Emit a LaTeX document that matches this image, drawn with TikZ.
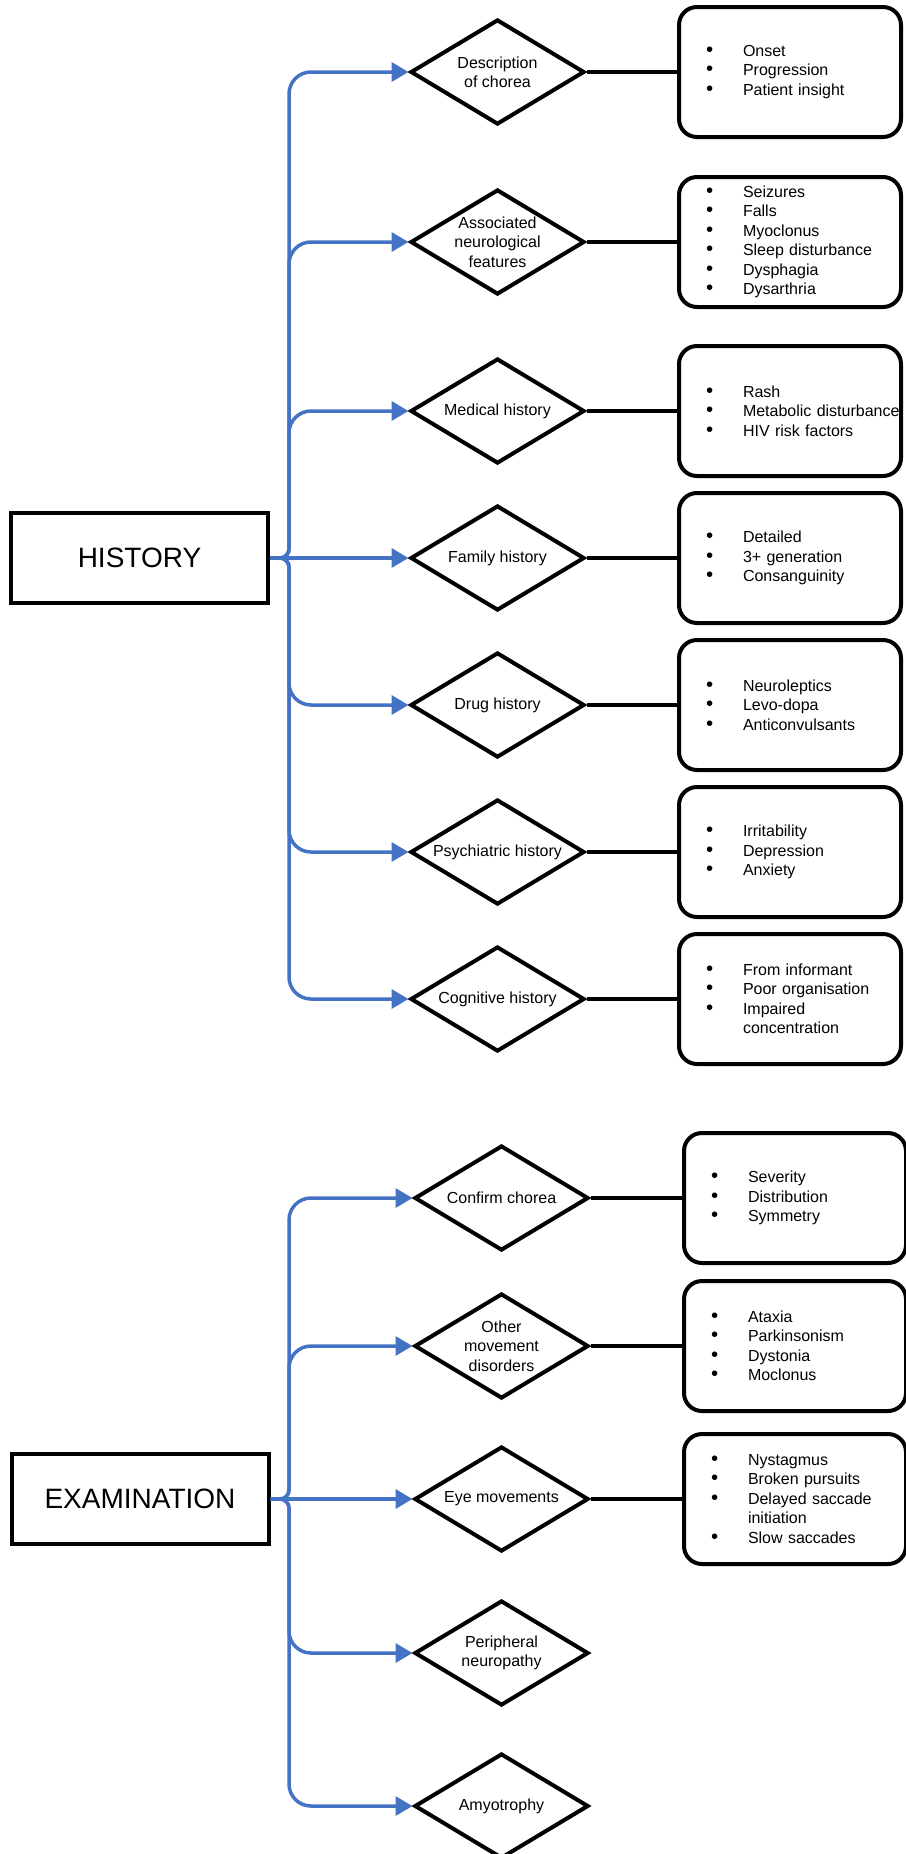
\documentclass[tikz,border=0pt]{standalone}
\usepackage{fontspec}
\setmainfont{Liberation Sans}
\usetikzlibrary{shapes.geometric,arrows.meta,positioning}
\newlength{\px}\setlength{\px}{0.25mm}
\newcommand{\bul}{\makebox[37\px][l]{\fontsize{14.5}{0}\selectfont\textbullet}}
\newcommand{\nobul}{\hspace*{37\px}}
\definecolor{flowblue}{RGB}{68,114,196}

\begin{document}
\begin{tikzpicture}[x=0.25mm,y=-0.25mm,
  main/.style={draw,line width=4\px,minimum width=257\px,minimum height=90\px,inner sep=0pt,font=\fontsize{19.92}{24}\selectfont},
  query/.style={diamond,draw,line width=4\px,aspect=1.66,inner sep=0pt,minimum width=174\px,minimum height=105\px,align=center,font=\fontsize{11.38}{13.8}\selectfont},
  notes/.style={draw,rounded corners=18\px,line width=4\px,minimum width=222\px,minimum height=130\px,inner xsep=27\px,text width=168\px,align=left,font=\fontsize{11.38}{13.87}\selectfont},
  flow/.style={draw=flowblue,line width=3.5\px,-{Triangle[length=4.25mm,width=4.75mm]}},
  link/.style={line width=4\px}]
\useasboundingbox (0,0) rectangle (906,1854);

% history
\node [main] (hist) at (139.5,558) {HISTORY};
\node [query] (d1) at (497.5,72) {Description\\of chorea};
\node [query] (d2) at (497.5,242) {Associated\\neurological\\features};
\node [query] (d3) at (497.5,411) {Medical history};
\node [query] (d4) at (497.5,558) {Family history};
\node [query] (d5) at (497.5,705) {Drug history};
\node [query] (d6) at (497.5,852) {Psychiatric history};
\node [query] (d7) at (497.5,999) {Cognitive history};
\node [notes] (b1) at (790,72) {\bul Onset\\\bul Progression\\\bul Patient insight};
\node [notes] (b2) at (790,242) {\bul Seizures\\\bul Falls\\\bul Myoclonus\\\bul Sleep disturbance\\\bul Dysphagia\\\bul Dysarthria};
\node [notes] (b3) at (790,411) {\bul Rash\\\bul \mbox{Metabolic disturbance}\\\bul HIV risk factors};
\node [notes] (b4) at (790,558) {\bul Detailed\\\bul 3+ generation\\\bul Consanguinity};
\node [notes] (b5) at (790,705) {\bul Neuroleptics\\\bul Levo-dopa\\\bul Anticonvulsants};
\node [notes] (b6) at (790,852) {\bul Irritability\\\bul Depression\\\bul Anxiety};
\node [notes] (b7) at (790,999) {\bul From informant\\\bul Poor organisation\\\bul Impaired\\\nobul concentration};

% examination
\node [main] (exam) at (140,1499) {EXAMINATION};
\node [query] (e1) at (501.5,1198) {Confirm chorea};
\node [query] (e2) at (501.5,1346) {Other\\movement\\disorders};
\node [query] (e3) at (501.5,1499) {Eye movements};
\node [query] (e4) at (501.5,1653) {Peripheral\\neuropathy};
\node [query] (e5) at (501.5,1806) {Amyotrophy};
\node [notes] (f1) at (795,1198) {\bul Severity\\\bul Distribution\\\bul Symmetry};
\node [notes] (f2) at (795,1346) {\bul Ataxia\\\bul Parkinsonism\\\bul Dystonia\\\bul Moclonus};
\node [notes] (f3) at (795,1499) {\bul Nystagmus\\\bul Broken pursuits\\\bul Delayed saccade\\\nobul initiation\\\bul Slow saccades};

\coordinate (hj) at (289,558);
\coordinate (ej) at (289,1499);

\draw [flow] (hist.east) [rounded corners=9\px] -- (hj) [rounded corners=22\px] |- (d1.west);
\draw [flow] (hist.east) [rounded corners=9\px] -- (hj) [rounded corners=22\px] |- (d2.west);
\draw [flow] (hist.east) [rounded corners=9\px] -- (hj) [rounded corners=22\px] |- (d3.west);
\draw [flow] (hist.east) -- (d4.west);
\draw [flow] (hist.east) [rounded corners=9\px] -- (hj) [rounded corners=22\px] |- (d5.west);
\draw [flow] (hist.east) [rounded corners=9\px] -- (hj) [rounded corners=22\px] |- (d6.west);
\draw [flow] (hist.east) [rounded corners=9\px] -- (hj) [rounded corners=22\px] |- (d7.west);
\draw [link] (d1.east) -- (b1.west);
\draw [link] (d2.east) -- (b2.west);
\draw [link] (d3.east) -- (b3.west);
\draw [link] (d4.east) -- (b4.west);
\draw [link] (d5.east) -- (b5.west);
\draw [link] (d6.east) -- (b6.west);
\draw [link] (d7.east) -- (b7.west);

\draw [flow] (exam.east) [rounded corners=9\px] -- (ej) [rounded corners=22\px] |- (e1.west);
\draw [flow] (exam.east) [rounded corners=9\px] -- (ej) [rounded corners=22\px] |- (e2.west);
\draw [flow] (exam.east) -- (e3.west);
\draw [flow] (exam.east) [rounded corners=9\px] -- (ej) [rounded corners=22\px] |- (e4.west);
\draw [flow] (exam.east) [rounded corners=9\px] -- (ej) [rounded corners=22\px] |- (e5.west);
\draw [link] (e1.east) -- (f1.west);
\draw [link] (e2.east) -- (f2.west);
\draw [link] (e3.east) -- (f3.west);
\end{tikzpicture}
\end{document}
